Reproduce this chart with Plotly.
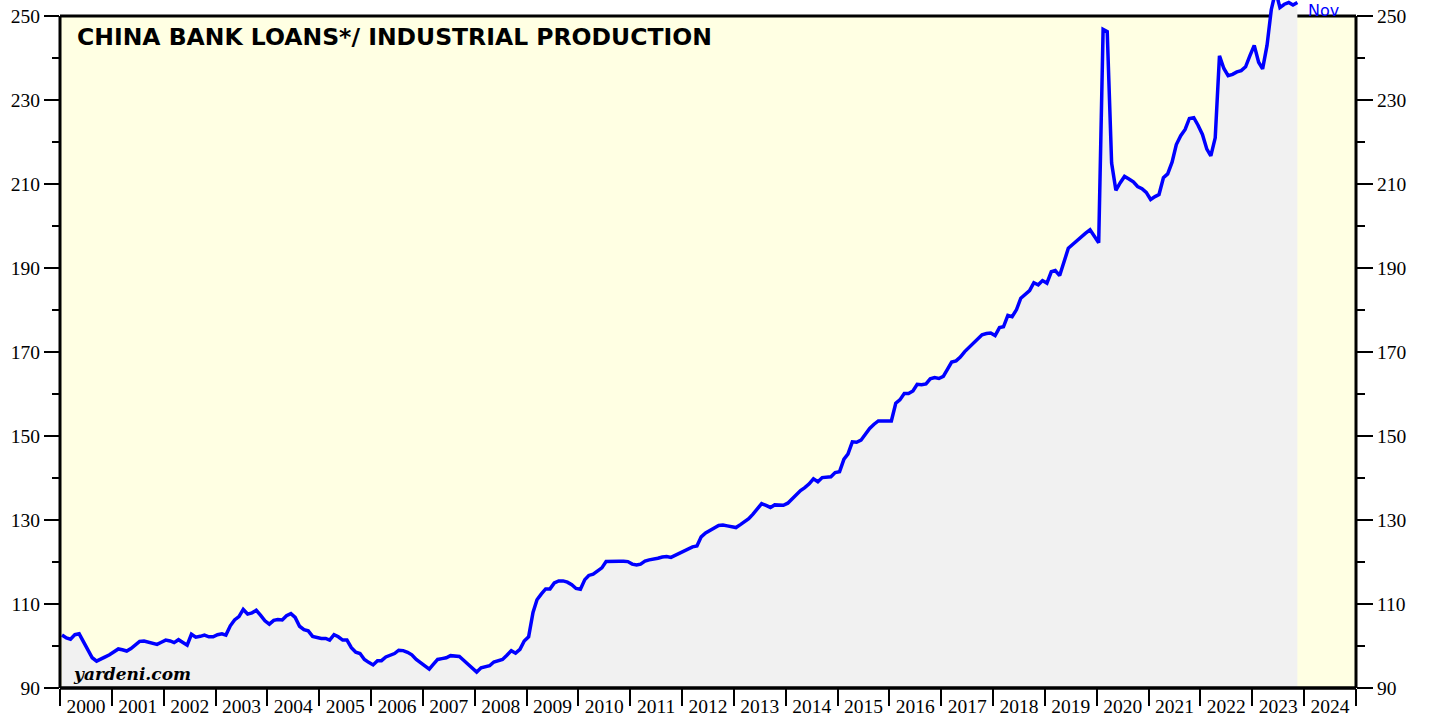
import plotly.graph_objects as go

# ---- data (monthly, Jan 2000 .. Nov 2023) ----
y2000 = [102.6, 101.9, 101.6, 102.7, 102.9, 101.0, 99.0, 97.2, 96.4, 97.0, 97.4, 97.9]
y2001 = [98.5, 99.3, 99.1, 98.8, 99.4, 100.2, 101.1, 101.2, 101.0, 100.8, 100.4, 100.9]
y2002 = [101.4, 101.2, 100.8, 101.5, 100.8, 100.2, 102.8, 102.1, 102.3, 102.6, 102.2, 102.2]
y2003 = [102.7, 102.9, 102.6, 104.8, 106.2, 107.0, 108.7, 107.6, 107.9, 108.5, 107.3, 106.0]
y2004 = [105.2, 106.1, 106.3, 106.2, 107.2, 107.7, 106.8, 104.7, 103.9, 103.6, 102.3, 102.0]
y2005 = [101.8, 101.8, 101.4, 102.7, 102.2, 101.4, 101.4, 99.6, 98.5, 98.2, 96.8, 96.1]
y2006 = [95.5, 96.5, 96.5, 97.4, 97.8, 98.2, 99.0, 98.9, 98.5, 97.9, 96.8, 96.0]
y2007 = [95.3, 94.5, 95.6, 96.8, 97.0, 97.2, 97.7, 97.7, 97.5, 96.6, 95.7, 94.7]
y2008 = [93.8, 94.8, 95.0, 95.3, 96.2, 96.5, 96.8, 97.8, 98.9, 98.3, 99.2, 101.2]
y2009 = [102.2, 108.0, 111.0, 112.4, 113.6, 113.6, 115.0, 115.5, 115.5, 115.2, 114.6, 113.7]
y2010 = [113.5, 115.8, 116.8, 117.1, 117.8, 118.6, 120.1, 120.2, 120.1, 120.2, 120.2, 120.1]
y2011 = [119.5, 119.3, 119.5, 120.2, 120.5, 120.6, 120.9, 121.2, 121.3, 121.1, 121.6, 122.1]
y2012 = [122.6, 123.1, 123.6, 123.8, 126.0, 126.9, 127.6, 128.1, 128.7, 128.8, 128.6, 128.4]
y2013 = [128.2, 128.9, 129.5, 130.3, 131.4, 132.6, 133.9, 133.5, 133.0, 133.6, 133.5, 133.5]
y2014 = [134.0, 135.1, 136.2, 137.0, 137.7, 138.6, 139.8, 139.1, 140.1, 140.3, 140.3, 141.3]
y2015 = [141.5, 144.5, 145.7, 148.6, 148.5, 149.0, 150.3, 151.8, 152.8, 153.6, 153.6, 153.6]
y2016 = [153.6, 157.8, 158.6, 160.1, 160.1, 160.7, 162.3, 162.2, 162.4, 163.6, 163.9, 163.7]
y2017 = [164.2, 166.0, 167.6, 167.9, 168.8, 170.1, 171.1, 172.1, 173.1, 174.1, 174.4, 174.5]
y2018 = [173.9, 175.8, 176.0, 178.7, 178.4, 180.1, 182.8, 183.6, 184.6, 186.5, 186.0, 187.0]
y2019 = [186.4, 189.1, 189.4, 188.2, 191.5, 194.7, 195.6, 196.6, 197.5, 198.3, 199.1, 197.6]
y2020 = [196.0, 246.8, 246.3, 215.0, 208.5, 210.3, 211.8, 211.2, 210.5, 209.4, 208.9, 208.0]
y2021 = [206.3, 207.0, 207.5, 211.5, 212.4, 215.2, 219.4, 221.5, 223.0, 225.6, 225.8, 224.0]
y2022 = [221.8, 218.3, 216.7, 221.0, 240.5, 237.5, 235.8, 236.1, 236.7, 237.0, 237.9, 240.5]
y2023 = [243.0, 239.0, 237.4, 243.0, 251.5, 256.0, 252.0, 252.8, 253.2, 252.6, 253.2]

yearly = [y2000, y2001, y2002, y2003, y2004, y2005, y2006, y2007, y2008, y2009, y2010,
          y2011, y2012, y2013, y2014, y2015, y2016, y2017, y2018, y2019, y2020, y2021,
          y2022, y2023]
values = [v for yr in yearly for v in yr]
dates = []
for i, yr in enumerate(yearly):
    for m in range(len(yr)):
        dates.append(f"{2000 + i}-{m + 1:02d}-15")

major_ticks = [90, 110, 130, 150, 170, 190, 210, 230, 250]
minor_ticks = [100, 120, 140, 160, 180, 200, 220, 240]
title_text = "CHINA BANK LOANS*/ INDUSTRIAL PRODUCTION"
source_text = "yardeni.com"
last_label = "Nov"

# ---- layout geometry ----
W, H = 1429, 719
L, R, T, B = 60, 73, 0, 31
plot_h = H - T - B
px_per_unit = 4.2
y_min = 90
y_max = y_min + plot_h / px_per_unit
top_val = 250
yp_top = (top_val - y_min) / (y_max - y_min)
plot_w = W - L - R


def px_x(px):
    return (px - L) / plot_w


def px_y(py):
    return (plot_h - (py - T)) / plot_h


tick_font = dict(family="Liberation Serif", size=19.5, color="black")

fig = go.Figure()
fig.add_trace(go.Scatter(
    x=dates, y=values, mode="lines",
    line=dict(color="#0000FF", width=3.5),
    fill="tozeroy", fillcolor="#F1F1F1",
    showlegend=False, hoverinfo="skip",
))
fig.add_trace(go.Scatter(
    x=[dates[0]], y=[values[0]], yaxis="y2", mode="markers",
    marker=dict(opacity=0), showlegend=False, hoverinfo="skip",
))

yax_common = dict(
    range=[y_min, y_max], tickmode="array", tickvals=major_ticks,
    ticktext=[str(v) for v in major_ticks], ticks="outside",
    tickwidth=2, tickcolor="black", showgrid=False, zeroline=False,
    showline=False, tickfont=tick_font, fixedrange=True,
)

fig.update_layout(
    width=W, height=H,
    margin=dict(l=L, r=R, t=T, b=B, autoexpand=False),
    paper_bgcolor="white", plot_bgcolor="white",
    xaxis=dict(
        type="date", range=["2000-01-01", "2025-01-01"],
        tick0="2000-01-01", dtick="M12", tickformat="%Y",
        ticklabelmode="period", ticks="outside", ticklen=17,
        tickwidth=2, tickcolor="black", showgrid=False, zeroline=False,
        showline=False, tickfont=tick_font, ticklabelstandoff=-16,
        automargin=False, fixedrange=True,
    ),
    yaxis=dict(**yax_common, side="left", ticklen=15, automargin=False,
               minor=dict(tickvals=minor_ticks, ticks="outside", ticklen=7,
                          tickwidth=2, tickcolor="black", showgrid=False)),
    yaxis2=dict(**yax_common, side="right", overlaying="y", ticklen=16,
                automargin=False,
                minor=dict(tickvals=minor_ticks, ticks="outside", ticklen=8,
                           tickwidth=2, tickcolor="black", showgrid=False)),
    shapes=[
        dict(type="rect", xref="paper", yref="paper", x0=0, x1=1, y0=0, y1=yp_top,
             fillcolor="#FFFFE3", line=dict(width=0), layer="below"),
        dict(type="line", xref="paper", yref="paper", x0=0, x1=1, y0=yp_top, y1=yp_top,
             line=dict(color="black", width=3), layer="below"),
        dict(type="line", xref="paper", yref="paper", x0=0, x1=0, y0=0, y1=yp_top,
             line=dict(color="black", width=3), layer="above"),
        dict(type="line", xref="paper", yref="paper", x0=1, x1=1, y0=0, y1=yp_top,
             line=dict(color="black", width=3), layer="above"),
        dict(type="line", xref="paper", yref="paper", x0=0, x1=1, y0=0, y1=0,
             line=dict(color="black", width=3.5), layer="above"),
    ],
    annotations=[
        dict(text=f"<b>{title_text}</b>", xref="paper", yref="paper",
             x=px_x(75), y=px_y(37), xanchor="left", yanchor="middle",
             showarrow=False, font=dict(family="DejaVu Sans", size=23.5, color="black")),
        dict(text=f"<b><i>{source_text}</i></b>", xref="paper", yref="paper",
             x=px_x(71), y=px_y(674), xanchor="left", yanchor="middle",
             showarrow=False, font=dict(family="DejaVu Serif", size=17, color="black")),
        dict(text=last_label, xref="paper", yref="paper",
             x=px_x(1307), y=1, xanchor="left", yanchor="top", borderpad=0,
             showarrow=False, font=dict(family="DejaVu Sans", size=16, color="#0000FF")),
    ],
)

fig.write_html(
    "out.html",
    config={"displayModeBar": False, "staticPlot": True},
    post_script="document.body.style.margin='0px'; document.body.style.overflow='hidden';",
)
